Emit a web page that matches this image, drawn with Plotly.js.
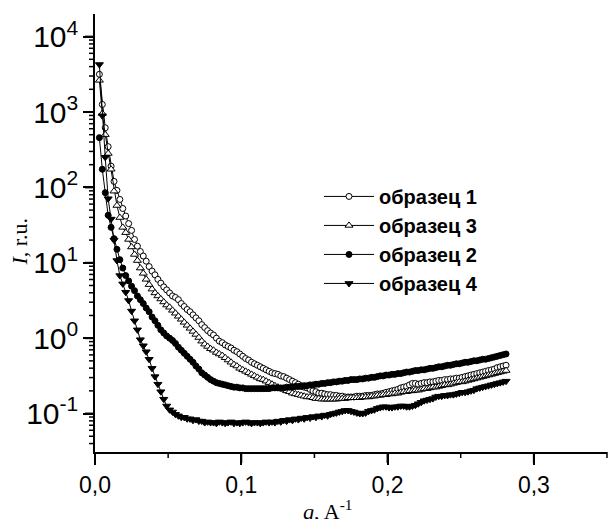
<!DOCTYPE html>
<html>
<head>
<meta charset="utf-8">
<script src="https://cdn.plot.ly/plotly-3.0.1.min.js"></script>
<style>html,body{margin:0;padding:0;background:#fff;}#chart{width:608px;height:519px;}</style>
</head>
<body>
<div id="chart"></div>
<script>
// q values, A^-1
const q = [
0.003,0.005,0.007,0.009,0.011,0.013,0.015,0.017,0.019,0.021,
0.023,0.025,0.027,0.029,0.031,0.033,0.035,0.037,0.039,0.041,
0.043,0.045,0.047,0.049,0.051,0.053,0.055,0.057,0.059,0.061,
0.063,0.065,0.067,0.069,0.071,0.073,0.075,0.077,0.079,0.081,
0.083,0.085,0.087,0.089,0.091,0.093,0.095,0.097,0.099,0.101,
0.103,0.105,0.107,0.109,0.111,0.113,0.115,0.117,0.119,0.121,
0.123,0.125,0.127,0.129,0.131,0.133,0.135,0.137,0.139,0.141,
0.143,0.145,0.147,0.149,0.151,0.153,0.155,0.157,0.159,0.161,
0.163,0.165,0.167,0.169,0.171,0.173,0.175,0.177,0.179,0.181,
0.183,0.185,0.187,0.189,0.191,0.193,0.195,0.197,0.199,0.201,
0.203,0.205,0.207,0.209,0.211,0.213,0.215,0.217,0.219,0.221,
0.223,0.225,0.227,0.229,0.231,0.233,0.235,0.237,0.239,0.241,
0.243,0.245,0.247,0.249,0.251,0.253,0.255,0.257,0.259,0.261,
0.263,0.265,0.267,0.269,0.271,0.273,0.275,0.277,0.279,0.281];

// образец 1 (open circles)
const sample1 = [
3162,1259,617,347,191,120,91.2,69.2,52.5,41.7,
33.1,26.9,20.4,16.6,14.1,12.3,10.5,8.91,7.76,6.92,
6.03,5.37,4.79,4.37,3.98,3.63,3.47,3.24,2.88,2.63,
2.40,2.24,2.04,1.86,1.70,1.51,1.38,1.26,1.17,1.10,
1.00,0.912,0.871,0.813,0.776,0.741,0.692,0.661,0.617,0.575,
0.537,0.513,0.479,0.457,0.437,0.417,0.398,0.380,0.363,0.347,
0.339,0.331,0.316,0.309,0.295,0.282,0.269,0.257,0.245,0.234,
0.224,0.219,0.209,0.200,0.195,0.186,0.186,0.182,0.178,0.178,
0.174,0.174,0.170,0.170,0.166,0.166,0.166,0.166,0.170,0.170,
0.170,0.174,0.174,0.174,0.178,0.182,0.182,0.186,0.191,0.195,
0.200,0.204,0.209,0.219,0.224,0.229,0.240,0.251,0.251,0.245,
0.251,0.257,0.257,0.263,0.263,0.269,0.275,0.275,0.282,0.282,
0.288,0.288,0.295,0.295,0.302,0.309,0.316,0.324,0.331,0.339,
0.347,0.355,0.363,0.372,0.380,0.389,0.407,0.417,0.427,0.437];

// образец 3 (open triangles)
const sample3 = [
2630,955,501,282,174,89.1,57.5,39.8,29.5,25.1,
20.4,16.2,12.9,10.7,8.51,7.24,6.03,5.13,4.47,3.98,
3.63,3.31,3.02,2.75,2.57,2.34,2.14,1.95,1.78,1.62,
1.48,1.35,1.23,1.12,1.02,0.912,0.832,0.776,0.724,0.692,
0.646,0.617,0.589,0.550,0.513,0.479,0.447,0.427,0.398,0.380,
0.363,0.347,0.331,0.316,0.302,0.288,0.282,0.269,0.257,0.245,
0.234,0.224,0.214,0.209,0.200,0.195,0.186,0.182,0.178,0.174,
0.170,0.166,0.166,0.162,0.158,0.158,0.155,0.155,0.155,0.155,
0.155,0.155,0.158,0.158,0.158,0.162,0.162,0.162,0.162,0.162,
0.166,0.166,0.166,0.170,0.170,0.174,0.174,0.178,0.178,0.182,
0.182,0.186,0.186,0.191,0.195,0.195,0.200,0.200,0.204,0.204,
0.209,0.214,0.214,0.219,0.224,0.224,0.229,0.234,0.240,0.240,
0.245,0.251,0.257,0.263,0.263,0.269,0.275,0.282,0.288,0.295,
0.302,0.309,0.316,0.324,0.331,0.339,0.347,0.355,0.363,0.372];

// образец 2 (filled circles)
const sample2 = [
457,174,85.1,42.7,29.5,20.9,15.1,11.0,8.51,6.76,
5.75,4.90,4.27,3.63,3.24,2.88,2.51,2.24,1.91,1.70,
1.48,1.29,1.17,1.07,1.00,0.933,0.851,0.759,0.692,0.631,
0.575,0.525,0.479,0.427,0.389,0.347,0.324,0.302,0.282,0.269,
0.257,0.251,0.245,0.240,0.234,0.229,0.224,0.224,0.219,0.219,
0.214,0.214,0.214,0.214,0.214,0.214,0.214,0.214,0.214,0.219,
0.219,0.219,0.219,0.219,0.224,0.224,0.224,0.229,0.229,0.229,
0.234,0.234,0.240,0.240,0.245,0.245,0.251,0.251,0.257,0.257,
0.263,0.263,0.269,0.269,0.275,0.275,0.282,0.282,0.282,0.288,
0.288,0.295,0.295,0.302,0.302,0.309,0.316,0.316,0.324,0.324,
0.331,0.331,0.339,0.339,0.347,0.355,0.355,0.363,0.372,0.372,
0.380,0.380,0.389,0.398,0.398,0.407,0.417,0.417,0.427,0.437,
0.437,0.447,0.457,0.457,0.468,0.479,0.479,0.490,0.501,0.501,
0.513,0.525,0.525,0.537,0.550,0.562,0.575,0.589,0.603,0.617];

// образец 4 (filled triangles down)
const sample4 = [
4266,891,251,70.8,38.0,20.0,10.7,6.76,5.25,4.07,
3.16,2.29,1.70,1.29,0.955,0.794,0.661,0.525,0.398,0.309,
0.245,0.195,0.155,0.126,0.112,0.105,0.0977,0.0933,0.0891,0.0891,
0.0851,0.0851,0.0813,0.0832,0.0794,0.0794,0.0759,0.0776,0.0759,0.0759,
0.0741,0.0776,0.0759,0.0741,0.0759,0.0776,0.0741,0.0759,0.0741,0.0759,
0.0776,0.0759,0.0741,0.0759,0.0759,0.0741,0.0759,0.0776,0.0759,0.0776,
0.0759,0.0794,0.0776,0.0813,0.0794,0.0832,0.0813,0.0851,0.0832,0.0871,
0.0851,0.0891,0.0871,0.0912,0.0891,0.0933,0.0912,0.0955,0.0933,0.0977,
0.100,0.102,0.105,0.107,0.110,0.110,0.107,0.105,0.102,0.100,
0.100,0.102,0.107,0.110,0.112,0.117,0.120,0.123,0.123,0.120,
0.120,0.123,0.123,0.126,0.126,0.123,0.123,0.126,0.129,0.135,
0.141,0.148,0.151,0.155,0.158,0.166,0.170,0.170,0.174,0.174,
0.178,0.178,0.182,0.186,0.191,0.191,0.195,0.200,0.204,0.214,
0.219,0.224,0.229,0.234,0.240,0.245,0.251,0.257,0.263,0.269];

const seriesNames = ['образец 1', 'образец 3', 'образец 2', 'образец 4'];
// y tick labels shown as powers of ten
const yLabelAlias = {'1': '10<sup>0</sup>', '10': '10<sup>1</sup>', '10<sup>\u22121</sup>': '10<sup>-1</sup>'};
const xMajorTicks = [0, 0.1, 0.2, 0.3];
const xMinorTicks = [0.05, 0.15, 0.25, 0.35];
const yDecades = [-1, 0, 1, 2, 3, 4];

// axis geometry (plot area 512 x 438 px)
const X_RANGE = [0, 0.35];
const Y_RANGE = [-1.51, 4.30];
const PLOT_W = 512, PLOT_H = 438;

function tr(y, name, sym, fill, size) {
  return {
    x: q, y: y, name: name, type: 'scatter', mode: 'lines+markers',
    line: {color: 'black', width: 1},
    marker: {symbol: sym, size: size, color: fill, line: {color: 'black', width: 1}}
  };
}

// tick positions (axis decoration)
const yMinorLogs = [];
for (let e = -2; e <= 4; e++) {
  for (let d = 2; d <= 9; d++) {
    const lv = e + Math.log10(d);
    if (lv >= Y_RANGE[0] && lv <= Y_RANGE[1]) yMinorLogs.push(lv);
  }
}
const data = [
  tr(sample1, seriesNames[0], 'circle', 'white', 6),
  tr(sample3, seriesNames[1], 'triangle-up', 'white', 7),
  tr(sample2, seriesNames[2], 'circle', 'black', 6),
  tr(sample4, seriesNames[3], 'triangle-down', 'black', 7)
];

// tick marks drawn as paper-referenced line shapes
const shapes = [];
function xTick(v, len, w) {
  const px = (v - X_RANGE[0]) / (X_RANGE[1] - X_RANGE[0]);
  shapes.push({type: 'line', xref: 'paper', yref: 'paper', x0: px, x1: px, y0: 0, y1: -len / PLOT_H,
    line: {color: 'black', width: w}, layer: 'above'});
}
function yTick(logv, len, w) {
  const py = (logv - Y_RANGE[0]) / (Y_RANGE[1] - Y_RANGE[0]);
  if (py < 0 || py > 1) return;
  shapes.push({type: 'line', xref: 'paper', yref: 'paper', x0: 0, x1: -len / PLOT_W, y0: py, y1: py,
    line: {color: 'black', width: w}, layer: 'above'});
}
xMajorTicks.forEach(function(v){ xTick(v, 11, 2); });
xMinorTicks.forEach(function(v){ xTick(v, 6, 1.5); });
yDecades.forEach(function(e){ yTick(e, 10, 2); });
yMinorLogs.forEach(function(lv){ yTick(lv, 6, 1.5); });

const sans = 'Liberation Sans, Arial, sans-serif';
const serif = 'Liberation Serif, Times New Roman, serif';
const layout = {
  width: 608, height: 519,
  margin: {l: 95, r: 1, t: 14, b: 67},
  separators: ', ',
  showlegend: true,
  legend: {
    x: 0.4375, y: 0.628, xanchor: 'left', yanchor: 'top',
    font: {family: sans, size: 20, color: 'black', weight: 'bold'},
    bgcolor: 'rgba(0,0,0,0)', borderwidth: 0,
    itemwidth: 50
  },
  xaxis: {
    range: X_RANGE, dtick: 0.1, tick0: 0, tickformat: '.1f',
    ticks: 'outside', ticklen: 11, tickwidth: 2, tickcolor: 'black',
    showline: true, linewidth: 2, linecolor: 'black', showgrid: false, zeroline: false,
    tickfont: {family: sans, size: 23, color: 'black'}
  },
  yaxis: {
    type: 'log', range: Y_RANGE, dtick: 1, tick0: 0, exponentformat: 'power',
    labelalias: yLabelAlias,
    ticks: 'outside', ticklen: 10, tickwidth: 2, tickcolor: 'black',
    showline: true, linewidth: 2, linecolor: 'black', showgrid: false, zeroline: false,
    tickfont: {family: sans, size: 24, color: 'black'}
  },
  shapes: shapes,
  annotations: [
    {text: '<i>I</i>, r.u.', xref: 'paper', yref: 'paper', x: -0.147, y: 0.48,
     xanchor: 'center', yanchor: 'middle', textangle: -90, showarrow: false,
     font: {family: serif, size: 22, color: 'black'}},
    {text: '<i>q</i>, A<sup>-1</sup>', xref: 'paper', yref: 'paper', x: 0.455, y: -0.132,
     xanchor: 'center', yanchor: 'middle', showarrow: false,
     font: {family: serif, size: 22, color: 'black'}}
  ]
};
Plotly.newPlot('chart', data, layout, {displayModeBar: false, staticPlot: true});
</script>
</body>
</html>
